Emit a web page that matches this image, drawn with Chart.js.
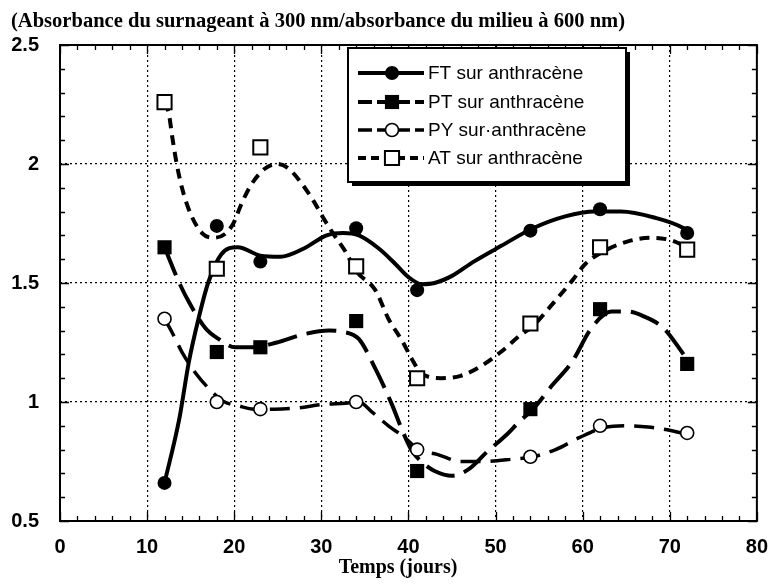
<!DOCTYPE html>
<html>
<head>
<meta charset="utf-8">
<script src="https://cdn.jsdelivr.net/npm/chart.js@4.4.1/dist/chart.umd.min.js"></script>
<style>
  html, body { margin: 0; padding: 0; background: #fff; }
  #graph { display: block; }
</style>
</head>
<body>
<canvas id="graph" width="782" height="585"></canvas>
<script>
// sampling days
const days = [12, 18, 23, 34, 41, 54, 62, 72];

// measured ratios
const ftValues = [0.66, 1.74, 1.59, 1.73, 1.47, 1.72, 1.81, 1.71];
const ptValues = [1.65, 1.21, 1.23, 1.34, 0.71, 0.97, 1.39, 1.16];
const pyValues = [1.35, 1.00, 0.97, 1.00, 0.80, 0.77, 0.90, 0.87];
const atValues = [2.26, 1.56, 2.07, 1.57, 1.10, 1.33, 1.65, 1.64];

// smoothed trend curves
const ftCurveX = [12, 13.7, 14.8, 15.9, 17, 18.5, 20.4, 23, 25.3, 28, 30.6, 32.5, 34.3, 36.6, 38.5, 40, 41.5, 43, 45, 47.5, 50.6, 54.3, 58, 61.4, 64.4, 68.2, 71.6, 72.3];
const ftCurveY = [0.66, 0.93, 1.17, 1.35, 1.50, 1.62, 1.65, 1.615, 1.61, 1.645, 1.70, 1.71, 1.70, 1.645, 1.58, 1.525, 1.495, 1.50, 1.53, 1.59, 1.655, 1.73, 1.78, 1.80, 1.80, 1.775, 1.73, 1.71];

const ptCurveX = [12, 13.7, 14.8, 16.7, 18.2, 20.1, 22.3, 24.9, 28, 30.9, 32.5, 34.3, 36.2, 38.1, 39.3, 40.4, 41.8, 43, 45, 47, 49, 51.2, 52.8, 54.3, 56.5, 58.8, 61, 63.3, 65.2, 67, 69.3, 71.2, 72.3];
const ptCurveY = [1.65, 1.50, 1.42, 1.31, 1.265, 1.23, 1.23, 1.25, 1.285, 1.30, 1.295, 1.265, 1.14, 0.99, 0.88, 0.795, 0.74, 0.71, 0.69, 0.72, 0.79, 0.86, 0.92, 0.97, 1.07, 1.17, 1.31, 1.38, 1.38, 1.36, 1.31, 1.22, 1.16];

const pyCurveX = [12, 12.9, 14, 15.6, 17.4, 18.9, 20.4, 22.3, 24.6, 27.2, 30.2, 32.8, 34.3, 35.9, 37.7, 39.6, 41.1, 43.3, 46, 48.6, 52, 54.3, 56.9, 59.6, 62.2, 64.8, 67.5, 70.1, 72.3];
const pyCurveY = [1.35, 1.29, 1.21, 1.12, 1.045, 1.0, 0.985, 0.97, 0.97, 0.975, 0.99, 0.995, 1.0, 0.955, 0.90, 0.85, 0.80, 0.78, 0.75, 0.75, 0.76, 0.77, 0.80, 0.85, 0.89, 0.90, 0.895, 0.88, 0.86];

const atCurveX = [12, 12.5, 12.9, 13.4, 14, 15, 16.3, 17.6, 18.9, 19.9, 20.8, 21.9, 23.5, 24.9, 26.1, 27.5, 29.1, 30.2, 31.4, 32.8, 34, 36.2, 37.7, 39.3, 40.4, 41.5, 43.8, 46, 48.3, 50.6, 52.8, 54.3, 56.5, 58.8, 60.3, 62.5, 65.2, 67.8, 70.1, 72.3];
const atCurveY = [2.26, 2.21, 2.11, 2.0, 1.90, 1.79, 1.71, 1.69, 1.705, 1.75, 1.83, 1.91, 1.98, 2.0, 1.985, 1.93, 1.845, 1.775, 1.705, 1.63, 1.55, 1.47, 1.35, 1.255, 1.18, 1.12, 1.10, 1.11, 1.15, 1.21, 1.28, 1.32, 1.41, 1.51, 1.58, 1.635, 1.675, 1.69, 1.68, 1.645];

const seriesLabels = ['FT sur anthracène', 'PT sur anthracène', 'PY sur\u00b7anthracène', 'AT sur anthracène'];

const xTicks = [0, 10, 20, 30, 40, 50, 60, 70, 80];
const yTicks = [0.5, 1, 1.5, 2, 2.5];

const chartTitle = '(Absorbance du surnageant à 300 nm/absorbance du milieu à 600 nm)';
const xAxisTitle = 'Temps (jours)';

const styles = [
  { dash: [], width: 4, marker: 'circle', radius: 7, fill: '#000', border: 0 },
  { dash: [30, 10], width: 4, marker: 'rect', radius: 10, fill: '#000', border: 0 },
  { dash: [20, 10], width: 3.5, marker: 'circle', radius: 6.5, fill: '#fff', border: 1.6 },
  { dash: [10, 7], width: 4, marker: 'rect', radius: 10, fill: '#fff', border: 2 }
];

function pairs(xs, ys) {
  return xs.map((x, i) => ({ x, y: ys[i] }));
}

function makeSeries(i, values, cx, cy) {
  const s = styles[i];
  return [
    {
      label: seriesLabels[i] + ' (courbe)',
      data: pairs(cx, cy),
      showLine: true,
      borderColor: '#000',
      borderWidth: s.width,
      borderDash: s.dash,
      borderCapStyle: 'butt',
      cubicInterpolationMode: 'monotone',
      pointRadius: 0,
      order: 2
    },
    {
      label: seriesLabels[i],
      data: pairs(days, values),
      showLine: false,
      pointStyle: s.marker,
      pointRadius: s.radius,
      pointBackgroundColor: s.fill,
      pointBorderColor: '#000',
      pointBorderWidth: s.border,
      order: 1
    }
  ];
}

const datasets = [
  ...makeSeries(0, ftValues, ftCurveX, ftCurveY),
  ...makeSeries(1, ptValues, ptCurveX, ptCurveY),
  ...makeSeries(2, pyValues, pyCurveX, pyCurveY),
  ...makeSeries(3, atValues, atCurveX, atCurveY)
];

// frame with inward major/minor ticks on all four sides
const framePlugin = {
  id: 'frame',
  afterDatasetsDraw(chart) {
    const { ctx, chartArea: a, scales: { x, y } } = chart;
    ctx.save();
    ctx.strokeStyle = '#000';
    ctx.lineWidth = 1.3;
    ctx.beginPath();
    for (let v = 0; v <= 80; v += 2) {
      const px = Math.round(x.getPixelForValue(v)) + 0.5;
      const len = v % 10 === 0 ? 9 : 5;
      ctx.moveTo(px, a.bottom); ctx.lineTo(px, a.bottom - len);
      ctx.moveTo(px, a.top); ctx.lineTo(px, a.top + len);
    }
    for (let i = 5; i <= 25; i++) {
      const py = Math.round(y.getPixelForValue(i / 10)) + 0.5;
      const len = i % 5 === 0 ? 9 : 5;
      ctx.moveTo(a.left, py); ctx.lineTo(a.left + len, py);
      ctx.moveTo(a.right, py); ctx.lineTo(a.right - len, py);
    }
    ctx.stroke();
    ctx.lineWidth = 2;
    ctx.strokeRect(a.left, a.top, a.right - a.left, a.bottom - a.top);
    ctx.restore();
  }
};

function drawMarker(ctx, s, cx, cy) {
  ctx.fillStyle = s.fill;
  ctx.strokeStyle = '#000';
  ctx.lineWidth = s.border;
  ctx.setLineDash([]);
  ctx.beginPath();
  if (s.marker === 'circle') {
    ctx.arc(cx, cy, s.radius, 0, Math.PI * 2);
  } else {
    const h = s.radius * Math.SQRT1_2;
    ctx.rect(cx - h, cy - h, 2 * h, 2 * h);
  }
  ctx.fill();
  if (s.border > 0) ctx.stroke();
}

// boxed legend with drop shadow, line sample + marker per series
const legendPlugin = {
  id: 'boxLegend',
  afterDraw(chart) {
    const ctx = chart.ctx;
    const left = 348, top = 48, w = 278, h = 134;
    ctx.save();
    ctx.fillStyle = '#000';
    ctx.fillRect(left + 4, top + 4, w, h);
    ctx.fillStyle = '#fff';
    ctx.fillRect(left, top, w, h);
    ctx.strokeStyle = '#000';
    ctx.lineWidth = 2;
    ctx.strokeRect(left, top, w, h);

    const rows = [73, 102, 130, 158];
    ctx.font = '19px "Liberation Sans", Arial, sans-serif';
    ctx.textBaseline = 'middle';
    rows.forEach((ry, i) => {
      const s = styles[i];
      ctx.strokeStyle = '#000';
      ctx.lineWidth = s.width;
      ctx.setLineDash(i === 0 ? [] : [s.dash[0] > 12 ? 14 : 8, 5]);
      ctx.beginPath();
      ctx.moveTo(358, ry);
      ctx.lineTo(424, ry);
      ctx.stroke();
      drawMarker(ctx, s, 392, ry);
      ctx.fillStyle = '#000';
      ctx.fillText(seriesLabels[i], 428, ry + 1);
    });
    ctx.restore();
  }
};

// serif titles above the plot and under the x axis
const titlePlugin = {
  id: 'serifTitles',
  afterDraw(chart) {
    const ctx = chart.ctx;
    ctx.save();
    ctx.fillStyle = '#000';
    ctx.font = 'bold 20px "Liberation Serif", "Times New Roman", serif';
    ctx.textBaseline = 'middle';
    const tw = ctx.measureText(chartTitle).width;
    const k = 614 / tw;
    ctx.translate(11, 22);
    ctx.scale(k, 1);
    ctx.fillText(chartTitle, 0, 0);
    ctx.restore();

    ctx.save();
    ctx.fillStyle = '#000';
    ctx.font = 'bold 20px "Liberation Serif", "Times New Roman", serif';
    ctx.textAlign = 'center';
    ctx.textBaseline = 'middle';
    ctx.fillText(xAxisTitle, 398, 568);
    ctx.restore();
  }
};

const tickFont = { family: '"Liberation Sans", Arial, sans-serif', size: 20, weight: 'bold' };

new Chart(document.getElementById('graph').getContext('2d'), {
  type: 'scatter',
  data: { datasets },
  options: {
    responsive: false,
    devicePixelRatio: 1,
    animation: false,
    layout: { padding: { top: 45, right: 14, left: 0, bottom: 0 } },
    plugins: {
      legend: { display: false },
      tooltip: { enabled: false },
      title: { display: false }
    },
    scales: {
      x: {
        type: 'linear',
        min: 0,
        max: 80,
        afterBuildTicks: scale => { scale.ticks = xTicks.map(value => ({ value })); },
        afterFit: scale => { scale.height = 64; },
        ticks: { font: tickFont, color: '#000', padding: 14, maxRotation: 0 },
        grid: { color: '#000', lineWidth: 1.2, drawTicks: false },
        border: { display: false, dash: [2, 3] }
      },
      y: {
        type: 'linear',
        min: 0.5,
        max: 2.5,
        afterBuildTicks: scale => { scale.ticks = yTicks.map(value => ({ value })); },
        afterFit: scale => { scale.width = 60; },
        ticks: { font: tickFont, color: '#000', padding: 21, callback: v => String(v) },
        grid: { color: '#000', lineWidth: 1.2, drawTicks: false },
        border: { display: false, dash: [2, 3] }
      }
    }
  },
  plugins: [framePlugin, legendPlugin, titlePlugin]
});
</script>
</body>
</html>
